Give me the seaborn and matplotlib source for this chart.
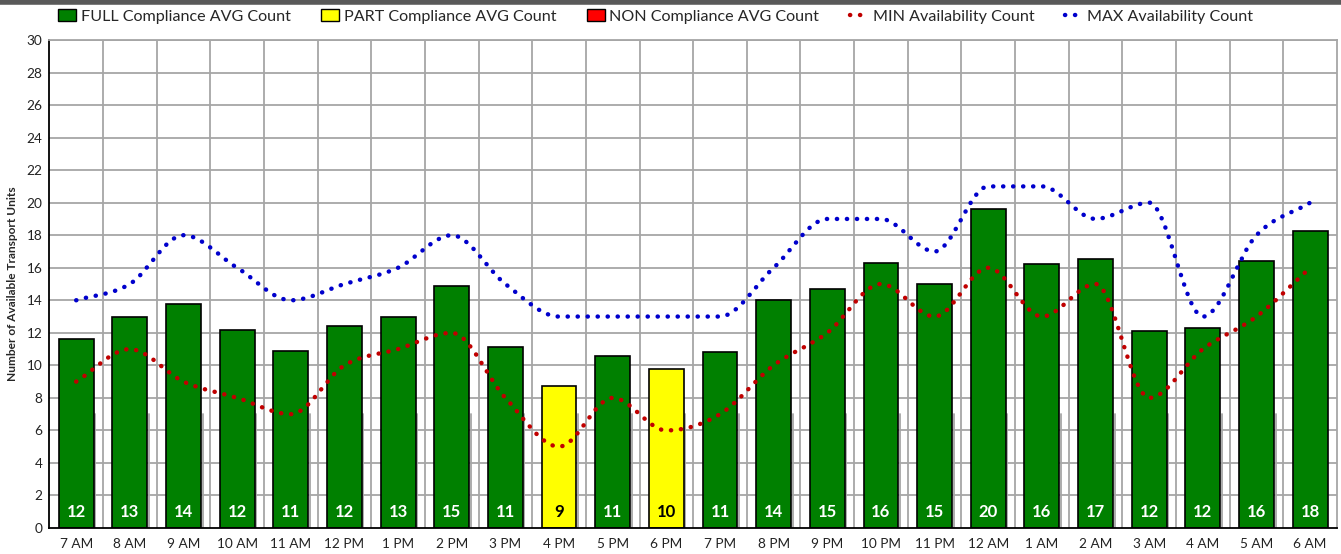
import numpy as np
import pandas as pd
import seaborn as sns
import matplotlib.pyplot as plt
from matplotlib.path import Path
from matplotlib.patches import PathPatch, Patch
from matplotlib.lines import Line2D

hours = ['7 AM', '8 AM', '9 AM', '10 AM', '11 AM', '12 PM', '1 PM', '2 PM', '3 PM',
         '4 PM', '5 PM', '6 PM', '7 PM', '8 PM', '9 PM', '10 PM', '11 PM', '12 AM',
         '1 AM', '2 AM', '3 AM', '4 AM', '5 AM', '6 AM']
avg_count = [11.6, 13.0, 13.8, 12.2, 10.9, 12.4, 13.0, 14.9, 11.1, 8.7, 10.6, 9.8,
             10.8, 14.0, 14.7, 16.3, 15.0, 19.6, 16.2, 16.55, 12.1, 12.3, 16.4, 18.25]
status = ['FULL'] * 9 + ['PART', 'FULL', 'PART'] + ['FULL'] * 12
min_avail = [9, 11, 9, 8, 7, 10, 11, 12, 8, 5, 8, 6, 7, 10, 12, 15, 13, 16, 13, 15, 8, 11, 13, 16]
max_avail = [14, 15, 18, 16, 14, 15, 16, 18, 15, 13, 13, 13, 13, 16, 19, 19, 17, 21, 21, 19, 20, 13, 18, 20]

labels = {'FULL': 'FULL Compliance AVG Count',
          'PART': 'PART Compliance AVG Count',
          'NON': 'NON Compliance AVG Count'}
colors = {'FULL': '#008000', 'PART': '#ffff00', 'NON': '#ff0000'}

df = pd.DataFrame({'hour': hours, 'count': avg_count, 'status': status})

sns.set_theme(style='white')
plt.rcParams['font.family'] = ['Lato', 'DejaVu Sans']

fig = plt.figure(figsize=(13.41, 5.54), dpi=100)
ax = fig.add_axes([0.0368, 0.0469, 0.9602, 0.8809])

grid_c = '#a6a6a6'
for v in range(2, 31, 2):
    ax.axhline(v, color=grid_c, lw=1.3, zorder=0)
for k in range(1, len(hours)):
    ax.axvline(k - 0.5, color=grid_c, lw=1.3, zorder=0)
    ax.plot([k - 0.645, k - 0.645], [0, 7], color=grid_c, lw=1.3, zorder=0)

sns.barplot(data=df, x='hour', y='count', hue='status', hue_order=['FULL', 'PART', 'NON'],
            palette=colors, dodge=False, width=0.65, edgecolor='black', linewidth=1.2,
            saturation=1, legend=False, ax=ax, zorder=2)


def smooth_path(xs, ys):
    # cubic bezier through the points, flat tangent at peaks, dips and plateaus
    x = np.asarray(xs, float)
    y = np.asarray(ys, float)
    n = len(y)
    d = np.diff(y) / np.diff(x)
    m = np.zeros(n)
    m[0], m[-1] = d[0], d[-1]
    for i in range(1, n - 1):
        if d[i - 1] * d[i] > 0:
            m[i] = (d[i - 1] + d[i]) / 2
    verts = [(x[0], y[0])]
    codes = [Path.MOVETO]
    for i in range(n - 1):
        h = x[i + 1] - x[i]
        verts += [(x[i] + h / 3, y[i] + m[i] * h / 3),
                  (x[i + 1] - h / 3, y[i + 1] - m[i + 1] * h / 3),
                  (x[i + 1], y[i + 1])]
        codes += [Path.CURVE4] * 3
    return Path(verts, codes)


dot_style = (0, (0.05, 2.2))
xpos = np.arange(len(hours))
for series, col in [(min_avail, '#c00000'), (max_avail, '#0000cc')]:
    patch = PathPatch(smooth_path(xpos, series), facecolor='none', edgecolor=col,
                      lw=3.2, linestyle=dot_style, capstyle='round', zorder=4)
    ax.add_patch(patch)

for i, (v, s) in enumerate(zip(avg_count, status)):
    ax.text(i, 0.5, f'{round(v):d}', ha='center', va='bottom', fontsize=12,
            fontweight='bold', color='white' if s == 'FULL' else 'black', zorder=5)

ax.set_xlim(-0.5, len(hours) - 0.5)
ax.set_ylim(0, 30)
ax.set_yticks(range(0, 31, 2))
ax.set_xlabel('')
ax.set_ylabel('Number of Available Transport Units', fontsize=8.6, fontweight='bold', labelpad=6)
ax.tick_params(axis='both', length=0, labelsize=9.8, colors='#222222')
ax.tick_params(axis='x', pad=7)
ax.tick_params(axis='y', pad=5)
for side in ['left', 'bottom']:
    ax.spines[side].set_color('black')
    ax.spines[side].set_linewidth(1.3)
for side in ['top', 'right']:
    ax.spines[side].set_color(grid_c)
    ax.spines[side].set_linewidth(1.3)

handles = [Patch(facecolor=colors[k], edgecolor='black', label=labels[k]) for k in ['FULL', 'PART', 'NON']]
handles += [Line2D([], [], color='#c00000', lw=3.2, linestyle=dot_style, dash_capstyle='round',
                   label='MIN Availability Count'),
            Line2D([], [], color='#0000cc', lw=3.2, linestyle=dot_style, dash_capstyle='round',
                   label='MAX Availability Count')]
fig.legend(handles=handles, loc='center', bbox_to_anchor=(0.489, 0.970), ncol=5,
           frameon=False, fontsize=11.6, handlelength=1.1, handleheight=0.75,
           columnspacing=1.9, handletextpad=0.3)

fig.add_artist(Line2D([0, 1], [0.997, 0.997], transform=fig.transFigure, color='#595959', lw=4))

fig.savefig('out.png', dpi=100)
